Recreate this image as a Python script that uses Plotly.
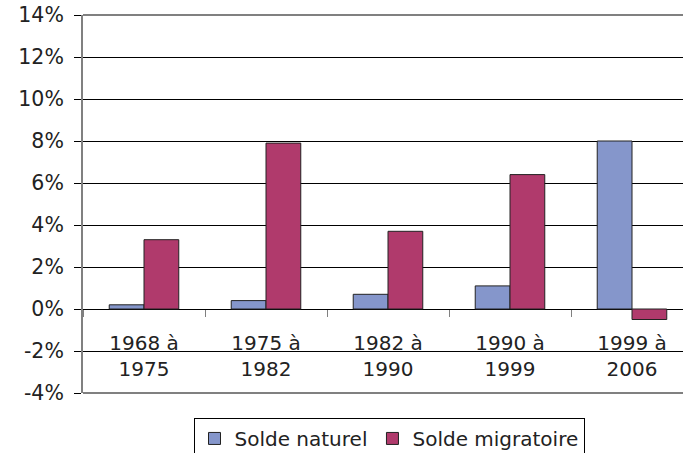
import plotly.graph_objects as go

categories = ["1968 à<br>1975", "1975 à<br>1982", "1982 à<br>1990", "1990 à<br>1999", "1999 à<br>2006"]
solde_naturel = [0.2, 0.4, 0.7, 1.1, 8.0]
solde_migratoire = [3.3, 7.9, 3.7, 6.4, -0.5]
y_ticks = [-4, -2, 0, 2, 4, 6, 8, 10, 12, 14]
y_labels = [f"{v}%" for v in y_ticks]

FONT = "DejaVu Sans"
fig = go.Figure()
fig.add_trace(go.Bar(name="Solde naturel", x=categories, y=solde_naturel,
                     marker=dict(color="#8596CB", line=dict(color="#222222", width=1))))
fig.add_trace(go.Bar(name="Solde migratoire", x=categories, y=solde_migratoire,
                     marker=dict(color="#B03A6C", line=dict(color="#222222", width=1))))

fig.update_layout(
    width=683, height=453,
    margin=dict(l=83, r=0, t=15, b=60, autoexpand=False),
    paper_bgcolor="white", plot_bgcolor="white",
    barmode="group", bargap=0.43, bargroupgap=0,
    font=dict(family=FONT, size=20, color="#222222"),
    showlegend=True,
    legend=dict(orientation="h", x=0.51, xanchor="center", y=-0.066, yanchor="top",
                bordercolor="black", borderwidth=1, bgcolor="white",
                font=dict(family=FONT, size=20, color="#222222"),
                itemwidth=30, traceorder="normal"),
    xaxis=dict(type="category", categoryarray=categories, range=[-0.5, 4.418],
               anchor="free", position=4/18, showline=False, showgrid=False, zeroline=False,
               automargin=False,
               ticks="outside", tickson="boundaries", ticklen=7, tickcolor="#808080",
               tickwidth=1, ticklabelstandoff=20, tickfont=dict(family=FONT, size=20)),
    yaxis=dict(range=[-4, 14], tickvals=y_ticks, ticktext=y_labels, automargin=False,
               ticklabeloverflow="allow",
               showgrid=True, gridcolor="black", gridwidth=1,
               zeroline=True, zerolinecolor="black", zerolinewidth=1,
               showline=True, linecolor="#808080", linewidth=2,
               ticks="outside", ticklen=7, tickcolor="black", tickwidth=1,
               ticklabelstandoff=6, tickfont=dict(family=FONT, size=20.5)),
    shapes=[
        dict(type="line", xref="paper", yref="paper", x0=0, x1=1, y0=1, y1=1,
             line=dict(color="#808080", width=2)),
        dict(type="line", xref="paper", yref="paper", x0=0, x1=1, y0=0, y1=0,
             line=dict(color="#808080", width=2)),
    ],
)
fig.write_html("out.html", config={"displayModeBar": False},
               post_script="document.body.style.margin='0';document.body.style.overflow='hidden';")
